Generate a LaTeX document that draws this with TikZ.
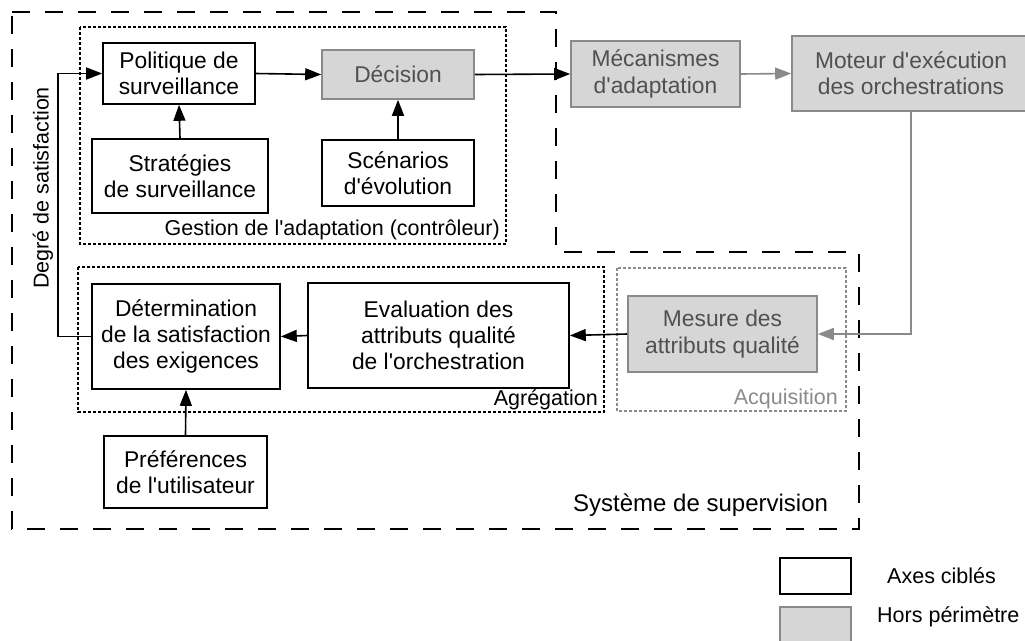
\documentclass[tikz,border=0pt]{standalone}
\usepackage{fontspec}
\setmainfont{Liberation Sans}[Ligatures=TeXOff]
\usetikzlibrary{arrows.meta}
\definecolor{gfill}{RGB}{214,214,214}
\definecolor{gline}{RGB}{138,138,138}
\definecolor{gtext}{RGB}{80,80,80}
\tikzset{
  box/.style={draw=black, line width=1.6pt, fill=white, align=center, inner sep=0pt,
    font=\fontsize{22.8}{26.2}\selectfont},
  gbox/.style={draw=gline, line width=1.6pt, fill=gfill, text=gtext, align=center, inner sep=0pt,
    font=\fontsize{22.8}{26.2}\selectfont},
  arr/.style={line width=1.6pt, -{Triangle[length=16pt,width=12pt]}},
  garr/.style={line width=1.6pt, draw=gline, -{Triangle[length=16pt,width=12pt,fill=gline]}},
  outer/.style={line width=2pt, dash pattern=on 18pt off 15pt},
  group/.style={line width=1.5pt, dash pattern=on 3pt off 2pt},
  lbl/.style={font=\fontsize{21.5}{24}\selectfont, inner sep=0pt},
}
\begin{document}
\begin{tikzpicture}[x=1pt,y=-1pt]
\useasboundingbox (0,0) rectangle (1025,640);
% containers
\draw[outer] (12,12) -- (556,12) -- (556,252) -- (859,252) -- (859,529) -- (12,529) -- cycle;
\draw[group] (80,27) rectangle (506,244);
\draw[group] (78,267) rectangle (604,412);
\draw[group, draw=gline] (617,268) rectangle (846,411);
% nodes
\node[box, minimum width=152pt, minimum height=61pt] (pol) at (179,73.5) {Politique de\\surveillance};
\node[gbox, minimum width=152pt, minimum height=49pt] (dec) at (398,74.5) {Décision};
\node[box, minimum width=176pt, minimum height=74pt] (strat) at (180,176) {Stratégies\\de surveillance};
\node[box, minimum width=152pt, minimum height=66pt] (scen) at (398,173) {Scénarios\\d'évolution};
\node[gbox, minimum width=169pt, minimum height=66pt] (meca) at (655.5,74) {Mécanismes\\d'adaptation};
\node[gbox, minimum width=238pt, minimum height=75pt] (mot) at (911,73.5) {Moteur d'exécution\\des orchestrations};
\node[gbox, minimum width=189pt, minimum height=76pt] (mes) at (722.5,334) {Mesure des\\attributs qualité};
\node[box, minimum width=261pt, minimum height=105pt] (eval) at (438.5,335.5) {Evaluation des\\attributs qualité\\de l'orchestration};
\node[box, minimum width=188pt, minimum height=105pt] (det) at (186,336.5) {Détermination\\de la satisfaction\\des exigences};
\node[box, minimum width=163pt, minimum height=72pt] (pref) at (185.5,472) {Préférences\\de l'utilisateur};
% labels
\node[lbl, anchor=base east] (lgest) at (500,235) {Gestion de l'adaptation (contrôleur)};
\node[lbl, anchor=base east] (lagr) at (598,405) {Agrégation};
\node[lbl, anchor=base east, text=gline] (lacq) at (838,404) {Acquisition};
\node[lbl, anchor=base west, font=\fontsize{24}{28}\selectfont] (lsys) at (573,511) {Système de supervision};
\node[lbl, rotate=90] (ldeg) at (43,188) {Degré de satisfaction};
% connectors
\coordinate (fb) at (58,336.5);
\draw[arr] (det.west) -- (fb) |- (pol.west);
\draw[arr] (pol.east) -- (dec.west);
\draw[arr] (dec.east) -- (meca.west);
\draw[garr] (meca.east) -- (mot.west);
\draw[arr] (strat.north) -- (pol.south);
\draw[arr] (scen.north) -- (dec.south);
\draw[garr] (mot.south) |- (mes.east);
\draw[arr] (mes.west) -- (eval.east);
\draw[arr] (eval.west) -- (det.east);
\draw[arr] (pref.north) -- (det.south);
% legend
\node[box, minimum width=71pt, minimum height=36pt] (lg1) at (815.5,576) {};
\node[gbox, minimum width=71pt, minimum height=38pt] (lg2) at (815.5,626) {};
\node[lbl, anchor=base west] (lt1) at (887,583) {Axes ciblés};
\node[lbl, anchor=base west] (lt2) at (877,622) {Hors périmètre};
\end{tikzpicture}
\end{document}
